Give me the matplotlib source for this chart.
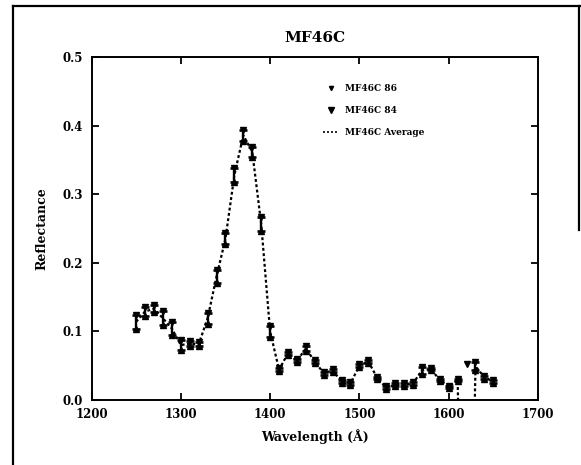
import numpy as np
import matplotlib
matplotlib.use('Agg')
import matplotlib.pyplot as plt
from matplotlib.lines import Line2D

# wavelength grid (Angstrom) and reflectance readings
wavelength = [1250, 1260, 1270, 1280, 1290, 1300, 1310, 1320, 1330, 1340,
              1350, 1360, 1370, 1380, 1390, 1400, 1410, 1420, 1430, 1440,
              1450, 1460, 1470, 1480, 1490, 1500, 1510, 1520, 1530, 1540,
              1550, 1560, 1570, 1580, 1590, 1600, 1610, 1620, 1630, 1640, 1650]

refl_86 = [0.124, 0.135, 0.138, 0.129, 0.114, 0.087, 0.086, 0.084, 0.127, 0.190,
           0.243, 0.338, 0.394, 0.369, 0.267, 0.108, 0.046, 0.070, 0.059, 0.078,
           0.058, 0.041, 0.045, 0.029, 0.026, 0.052, 0.058, 0.034, 0.020, 0.024,
           0.024, 0.026, 0.048, 0.047, 0.031, 0.021, 0.031, 0.052, 0.055, 0.035, 0.029]

refl_84 = [0.104, 0.123, 0.128, 0.109, 0.094, 0.073, 0.078, 0.078, 0.111, 0.170,
           0.227, 0.318, 0.378, 0.355, 0.247, 0.092, 0.042, 0.066, 0.055, 0.072,
           0.054, 0.037, 0.041, 0.025, 0.022, 0.048, 0.054, 0.030, 0.016, 0.020,
           0.020, 0.022, 0.038, 0.043, 0.027, 0.017, 0.027, -1.25, 0.043, 0.031, 0.025]

refl_avg = [0.114, 0.129, 0.133, 0.119, 0.104, 0.080, 0.082, 0.081, 0.119, 0.180,
            0.235, 0.328, 0.386, 0.362, 0.257, 0.100, 0.044, 0.068, 0.057, 0.075,
            0.056, 0.039, 0.043, 0.027, 0.024, 0.050, 0.056, 0.032, 0.018, 0.022,
            0.022, 0.024, 0.043, 0.045, 0.029, 0.019, 0.029, -0.60, 0.049, 0.033, 0.027]

x_ticks = [1200, 1300, 1400, 1500, 1600, 1700]
y_ticks = [0.0, 0.1, 0.2, 0.3, 0.4, 0.5]

plt.rcParams['font.family'] = 'DejaVu Serif'
plt.rcParams['font.weight'] = 'bold'

fig = plt.figure(figsize=(5.81, 4.65), dpi=100)
ax = fig.add_axes([0.1575, 0.14, 0.7685, 0.737])

wl = np.array(wavelength)
r86 = np.array(refl_86)
r84 = np.array(refl_84)
avg = np.array(refl_avg)

# average curve, clipped at the axis where it dives negative
ax.plot(wl, avg, color='black', linestyle=(0, (1.3, 1.1)), linewidth=1.6, zorder=2)

# spread between the two runs, only where both are on scale
ok = (r84 >= 0) & (r86 >= 0)
hi = np.maximum(r86, r84)
lo = np.minimum(r86, r84)
ax.vlines(wl[ok], lo[ok], hi[ok], color='black', linewidth=1.7, zorder=3)
ax.plot(wl[ok], hi[ok], linestyle='none', marker='_', markersize=6, mew=1.9, color='black', zorder=3)
ax.plot(wl[ok], lo[ok], linestyle='none', marker='_', markersize=6, mew=1.9, color='black', zorder=3)

ax.plot(wl, r86, linestyle='none', marker='v', markersize=4.5, color='black', zorder=4)
ax.plot(wl, r84, linestyle='none', marker='^', markersize=4.5, color='black', zorder=4)

ax.set_xlim(1200, 1700)
ax.set_ylim(0, 0.5)
ax.set_xticks(x_ticks)
ax.set_yticks(y_ticks)
ax.set_yticklabels(['%.1f' % v for v in y_ticks])
ax.tick_params(direction='in', top=True, right=True, length=5, width=1.3,
               labelsize=8.5, pad=6)
for sp in ax.spines.values():
    sp.set_linewidth(1.4)

ax.set_title('MF46C', fontsize=11, fontweight='bold', pad=11)
ax.set_xlabel('Wavelength (Å)', fontsize=9, fontweight='bold', labelpad=6)
ax.set_ylabel('Reflectance', fontsize=9, fontweight='bold', labelpad=10)

handles = [
    Line2D([], [], linestyle='none', marker='v', markersize=3, color='black'),
    Line2D([], [], linestyle='none', marker='v', markersize=4.5, color='black'),
    Line2D([], [], linestyle=(0, (1.2, 1.2)), linewidth=1.2, color='black'),
]
ax.legend(handles, ['MF46C 86', 'MF46C 84', 'MF46C Average'],
          loc='upper left', bbox_to_anchor=(0.5, 0.945), frameon=False,
          fontsize=6.5, handlelength=1.8, labelspacing=1.45, handletextpad=0.6)

# page border around the plot
fig.add_artist(Line2D([13 / 581, 13 / 581], [0, 1 - 6 / 465], color='black', linewidth=1.6))
fig.add_artist(Line2D([13 / 581, 580 / 581], [1 - 6 / 465, 1 - 6 / 465], color='black', linewidth=1.6))
fig.add_artist(Line2D([579 / 581, 579 / 581], [1 - 6 / 465, 1 - 230 / 465], color='black', linewidth=1.6))

fig.savefig('out.png', dpi=100)
